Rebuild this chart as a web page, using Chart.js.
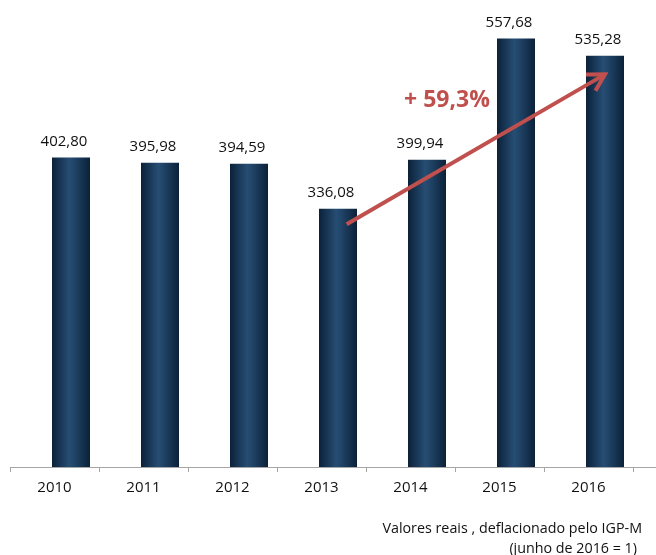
<!DOCTYPE html>
<html>
<head>
<meta charset="utf-8">
<script src="https://cdn.jsdelivr.net/npm/chart.js@4.4.1/dist/chart.umd.min.js"></script>
<style>
html,body{margin:0;padding:0;background:#fff;}
#wrap{width:656px;height:555px;position:relative;}
</style>
</head>
<body>
<div id="wrap"><canvas id="c" width="656" height="555"></canvas></div>
<script>
const categories = ['2010','2011','2012','2013','2014','2015','2016'];
const values = [402.80, 395.98, 394.59, 336.08, 399.94, 557.68, 535.28];
const emptySeries = [null, null, null, null, null, null, null];
const arrowFrom = [3.283, 316];
const arrowTo = [6.185, 511];
const arrowLabel = '+ 59,3%';
const arrowLabelAt = [4.41, 477];
const footnoteLines = ['Valores reais , deflacionado pelo IGP-M', '(junho de 2016 = 1)'];

const FONT = "'Open Sans', 'Noto Sans', sans-serif";

function fmt(v){ return v.toFixed(2).replace('.', ','); }

const decor = {
  id: 'decor',
  beforeDatasetsDraw(chart){
    const ctx = chart.ctx;
    const meta = chart.getDatasetMeta(1);
    meta.data.forEach(el => {
      const l = el.x - el.width/2, r = el.x + el.width/2;
      const g = ctx.createLinearGradient(l, 0, r, 0);
      g.addColorStop(0, '#0b2139');
      g.addColorStop(0.45, '#264d73');
      g.addColorStop(0.55, '#22476b');
      g.addColorStop(1, '#0b2139');
      el.options = Object.assign({}, el.options, { backgroundColor: g });
    });
  },
  afterDatasetsDraw(chart){
    const ctx = chart.ctx;
    const xs = chart.scales.x, ys = chart.scales.y;
    const meta = chart.getDatasetMeta(1);
    ctx.save();
    ctx.fillStyle = '#111';
    ctx.font = "15px " + FONT;
    ctx.textAlign = 'center';
    ctx.textBaseline = 'middle';
    meta.data.forEach((el, i) => {
      ctx.fillText(fmt(values[i]), el.x - 7, el.y - 16);
    });
    // arrow
    const x1 = xs.getPixelForValue(arrowFrom[0]), y1 = ys.getPixelForValue(arrowFrom[1]);
    const x2 = xs.getPixelForValue(arrowTo[0]), y2 = ys.getPixelForValue(arrowTo[1]);
    ctx.strokeStyle = '#C0504D';
    ctx.lineWidth = 4;
    ctx.lineCap = 'butt';
    ctx.lineJoin = 'miter';
    ctx.beginPath();
    ctx.moveTo(x1, y1);
    ctx.lineTo(x2, y2);
    ctx.stroke();
    const ang = Math.atan2(y2 - y1, x2 - x1);
    const L = 19, a = Math.PI/6;
    ctx.beginPath();
    ctx.moveTo(x2 - L*Math.cos(ang - a), y2 - L*Math.sin(ang - a));
    ctx.lineTo(x2, y2);
    ctx.lineTo(x2 - L*Math.cos(ang + a), y2 - L*Math.sin(ang + a));
    ctx.stroke();
    ctx.fillStyle = '#C0504D';
    ctx.font = "bold 23px " + FONT;
    ctx.fillText(arrowLabel, xs.getPixelForValue(arrowLabelAt[0]), ys.getPixelForValue(arrowLabelAt[1]));
    // axis line extension
    ctx.strokeStyle = '#a6a6a6';
    ctx.lineWidth = 1;
    ctx.beginPath();
    ctx.moveTo(chart.chartArea.right, Math.round(chart.chartArea.bottom) + 0.5);
    ctx.lineTo(chart.width, Math.round(chart.chartArea.bottom) + 0.5);
    ctx.stroke();
    // footnote
    ctx.fillStyle = '#111';
    ctx.font = "14.3px " + FONT;
    ctx.textAlign = 'right';
    ctx.fillText(footnoteLines[0], 642, 529);
    ctx.fillText(footnoteLines[1], 637, 549);
    ctx.restore();
  }
};

new Chart(document.getElementById('c'), {
  type: 'bar',
  data: {
    labels: categories,
    datasets: [
      { data: emptySeries, backgroundColor: 'rgba(0,0,0,0)' },
      { data: values, backgroundColor: '#163a5c', borderWidth: 0 }
    ]
  },
  options: {
    responsive: false,
    animation: false,
    devicePixelRatio: 1,
    categoryPercentage: 0.7416,
    barPercentage: 1.1515,
    layout: { padding: { left: 10, right: 23, top: 6, bottom: 51 } },
    plugins: { legend: { display: false }, tooltip: { enabled: false } },
    scales: {
      y: { display: false, min: 0, max: 600 },
      x: {
        offset: true,
        border: { display: true, color: '#a6a6a6', width: 1 },
        grid: { offset: true, drawOnChartArea: false, tickLength: 5, color: '#a6a6a6' },
        ticks: { color: '#111', font: { family: FONT, size: 15 }, padding: 7, maxRotation: 0 }
      }
    }
  },
  plugins: [decor]
});
</script>
</body>
</html>
